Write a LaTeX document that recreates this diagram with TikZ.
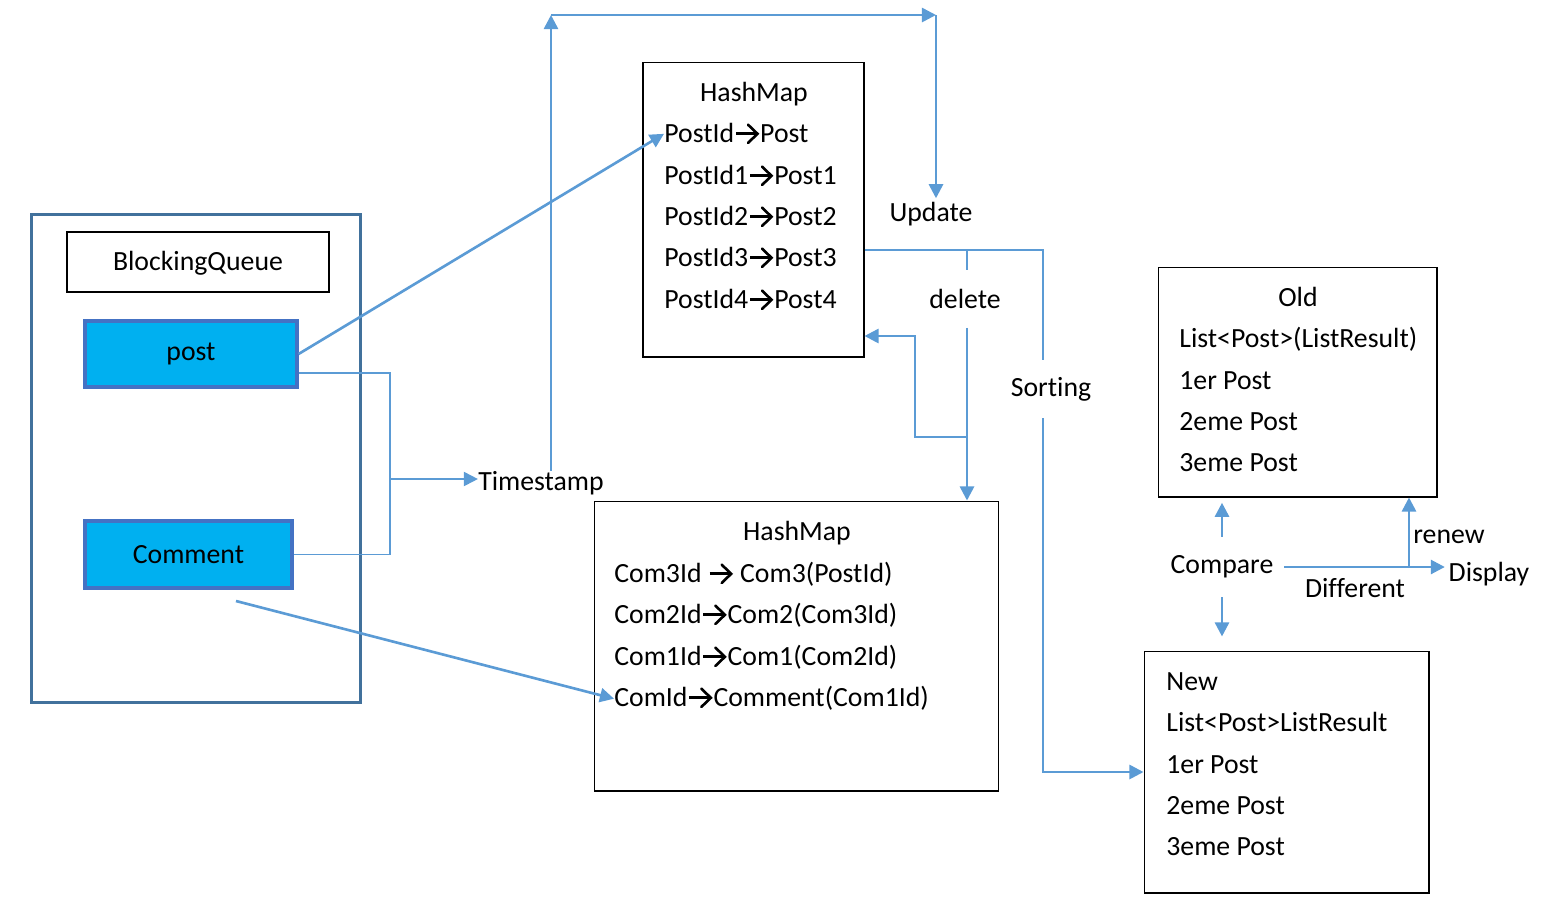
\documentclass[tikz,border=0pt]{standalone}
\usepackage{fontspec}
\setmainfont{Carlito}[Ligatures=CommonOff]
\usetikzlibrary{arrows.meta}
\definecolor{flowblue}{RGB}{91,155,213}
\definecolor{queuefill}{RGB}{0,176,240}
\definecolor{queueedge}{RGB}{68,114,196}
\definecolor{frameedge}{RGB}{65,113,156}
\newcommand\flowtextstyle{\fontsize{15.8}{18}\selectfont}
\newcommand\maparrow{\hspace{0.3pt}\tikz[baseline=0pt]{\draw[line width=1.5pt] (0pt,5.2pt) -- (12pt,5.2pt); \draw[line width=1.5pt, line cap=round] (6.8pt,10.4pt) -- (12.2pt,5.2pt) -- (6.8pt,0pt);}\hspace{0.8pt}}
\tikzset{
  flowline/.style={draw=flowblue, line width=1.5pt},
  flow/.style={flowline, -{Triangle[length=8pt,width=8pt]}},
  mapbox/.style={draw, line width=0.6pt, inner sep=0pt},
  queuebox/.style={draw=queueedge, fill=queuefill, line width=1.8pt, inner sep=0pt},
  rowtext/.style={anchor=mid west, inner sep=0pt, yshift=-2.7pt},
  plainlabel/.style={anchor=mid, inner sep=0pt, yshift=-2.7pt},
  gaplabel/.style={inner xsep=6pt, inner ysep=0pt},
}
\begin{document}
\begin{tikzpicture}[x=0.02cm, y=-0.02cm, font=\flowtextstyle]
  \useasboundingbox (0,0) rectangle (1560,904);
  \node[draw=frameedge, line width=1.7pt, minimum width=6.6cm, minimum height=9.78cm] (queue) at (196,458.5) {};
  \node[draw, line width=0.8pt, minimum width=5.24cm, minimum height=1.2cm, text height=12pt, text depth=1.8pt] (bq) at (198,262) {BlockingQueue};
  \node[queuebox, minimum width=4.24cm, minimum height=1.32cm] (post) at (191,354) {post};
  \node[queuebox, minimum width=4.14cm, minimum height=1.34cm] (comment) at (188.5,554.5) {Comment};
  \node[mapbox, minimum width=4.42cm, minimum height=5.9cm] (hm1) at (753.5,209.5) {};
  \node[plainlabel] (hm1title) at (754,93) {HashMap};
  \foreach \y/\txt [count=\i] in {134/PostId\maparrow Post, 176/PostId1\maparrow Post1, 217/PostId2\maparrow Post2, 258/PostId3\maparrow Post3, 300/PostId4\maparrow Post4}
    \node[rowtext] (hm1row\i) at (664,\y) {\txt};
  \node[mapbox, minimum width=8.1cm, minimum height=5.8cm] (hm2) at (796.5,646) {};
  \node[plainlabel] (hm2title) at (797,532) {HashMap};
  \foreach \y/\txt [count=\i] in {574/Com3Id \maparrow{} Com3(PostId), 615/Com2Id\maparrow Com2(Com3Id), 657/Com1Id\maparrow Com1(Com2Id), 698/ComId\maparrow Comment(Com1Id)}
    \node[rowtext] (hm2row\i) at (614,\y) {\txt};
  \node[mapbox, minimum width=5.58cm, minimum height=4.6cm] (old) at (1297.5,382) {};
  \node[plainlabel] (oldtitle) at (1298,298) {Old};
  \foreach \y/\txt [count=\i] in {339/List<Post>(ListResult), 381/1er Post, 422/2eme Post, 463/3eme Post}
    \node[rowtext] (oldrow\i) at (1179,\y) {\txt};
  \node[mapbox, minimum width=5.7cm, minimum height=4.84cm] (new) at (1286.5,772) {};
  \foreach \y/\txt [count=\i] in {682/New, 723/List<Post>ListResult, 765/1er Post, 806/2eme Post, 847/3eme Post}
    \node[rowtext] (newrow\i) at (1166,\y) {\txt};
  \node[inner sep=0pt] (timestamp) at (541,483) {Timestamp};
  \node[inner sep=2pt] (update) at (931,214) {Update};
  \node[gaplabel, minimum height=1.14cm] (delete) at (965,299) {delete};
  \node[gaplabel, minimum height=1.16cm] (sorting) at (1051,389) {Sorting};
  \node[gaplabel, minimum height=1.2cm] (compare) at (1222,567) {Compare};
  \node[inner xsep=2pt] (display) at (1489,574) {Display};
  \node[plainlabel] (different) at (1355,589) {Different};
  \node[plainlabel] (renew) at (1449,535) {renew};
  \coordinate (tsjoin) at (390,479);
  \coordinate (comtail) at (236,601);
  \coordinate (topleft) at (551,15);
  \coordinate (topright) at (936,15);
  \coordinate (deltop) at (967,250);
  \coordinate (split) at (1043,250);
  \coordinate (backjoin) at (967,437);
  \coordinate (backbend) at (915,336);
  \coordinate (renewfoot) at (1409,568);
  \draw[flow] (post.east) -- (hm1row1.west);
  \draw[flow, line width=1.1pt] (post.-10) -| (tsjoin) -- (tsjoin -| timestamp.west);
  \draw[flowline, line width=0.6pt] (comment.east) -| (tsjoin);
  \draw[flow] (timestamp.north -| topleft) -- (topleft);
  \draw[flow] (topleft) -- (topright);
  \draw[flow] (topright) -- (update.north -| topright);
  \draw[flowline] (hm1.east |- deltop) -- (split) -- (sorting.north -| split);
  \draw[flow] (sorting.south -| split) |- (new.west);
  \draw[flowline] (deltop) -- (delete.north -| deltop);
  \draw[flow] (delete.south -| deltop) -- (hm2.north -| deltop);
  \draw[flow] (backjoin) -| (backbend) -- (backbend -| hm1.east);
  \draw[flow] (comtail) -- (hm2row4.west);
  \draw[flow, shorten >=3pt] (compare.north) -- (compare.north |- old.south);
  \draw[flow, shorten >=8pt] (compare.south) -- (compare.south |- new.north);
  \draw[flow] (compare.east) -- (compare.east -| display.west);
  \draw[flow] (renewfoot) -- (renewfoot |- old.south);
\end{tikzpicture}
\end{document}
